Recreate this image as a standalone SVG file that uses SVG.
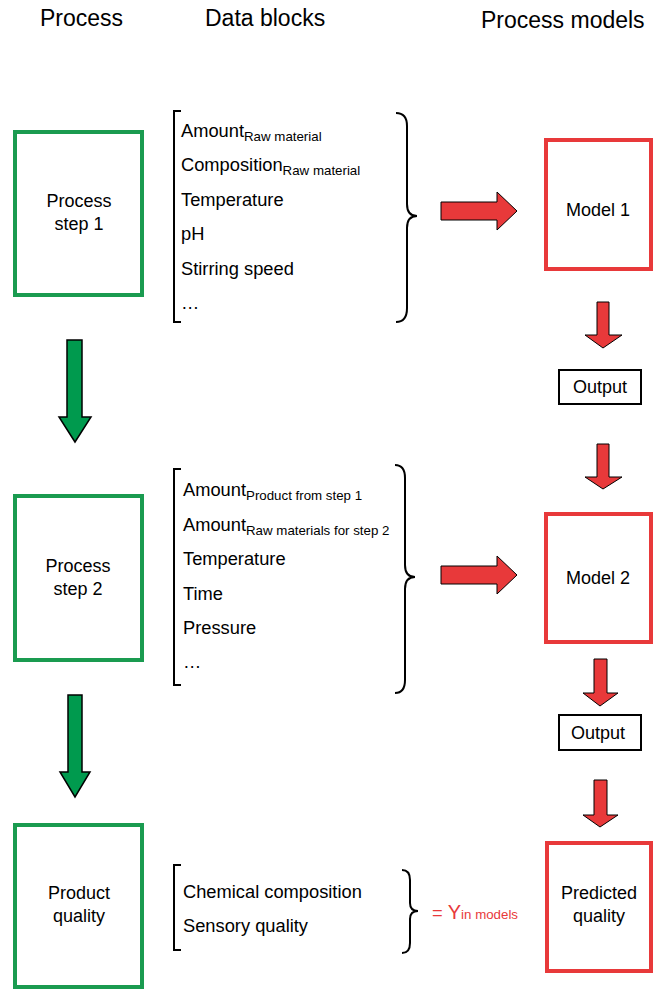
<svg xmlns="http://www.w3.org/2000/svg" width="653" height="989" viewBox="0 0 653 989">
  <style>
    text { font-family: "Liberation Sans", Arial, sans-serif; fill: #000; }
    .hdr { font-size: 23px; }
    .item { font-size: 18.3px; }
    .sub { font-size: 13.3px; }
    .lbl { font-size: 18px; text-anchor: middle; }
    .gbox { fill: #fff; stroke: #1a9b50; stroke-width: 4; }
    .rbox { fill: #fff; stroke: #e8393a; stroke-width: 4; }
    .obox { fill: #fff; stroke: #000; stroke-width: 2; }
    .garrow { fill: #009a4e; stroke: #000; stroke-width: 1.5; stroke-linejoin: miter; }
    .rarrow { fill: #e8393a; stroke: #000; stroke-width: 1; stroke-linejoin: miter; }
    .brk { fill: none; stroke: #000; stroke-width: 2; }
    .red { fill: #e8393a; }
  </style>

  <!-- column headers -->
  <g id="headers">
    <text class="hdr" x="40" y="26">Process</text>
    <text class="hdr" x="205" y="26">Data blocks</text>
    <text class="hdr" x="481" y="28">Process models</text>
  </g>

  <!-- process steps -->
  <g id="process-step-1">
    <rect class="gbox" x="15" y="132" width="127" height="163"/>
    <text class="lbl" x="79" y="207">Process</text>
    <text class="lbl" x="79" y="230">step 1</text>
  </g>
  <g id="process-step-2">
    <rect class="gbox" x="15" y="496" width="127" height="164"/>
    <text class="lbl" x="78" y="572">Process</text>
    <text class="lbl" x="78" y="595">step 2</text>
  </g>
  <g id="product-quality">
    <rect class="gbox" x="15" y="825" width="127" height="162"/>
    <text class="lbl" x="79" y="899">Product</text>
    <text class="lbl" x="79" y="922">quality</text>
  </g>

  <!-- data blocks -->
  <g id="data-block-1">
    <path class="brk" d="M181,111 H174 V322 H181"/>
    <text class="item" x="181" y="137">Amount<tspan class="sub" dy="4">Raw material</tspan></text>
    <text class="item" x="181" y="171">Composition<tspan class="sub" dy="4">Raw material</tspan></text>
    <text class="item" x="181" y="206">Temperature</text>
    <text class="item" x="181" y="240">pH</text>
    <text class="item" x="181" y="275">Stirring speed</text>
    <text class="item" x="181" y="309">…</text>
    <path class="brk" d="M396,113 Q407,113 407,126 V204 Q407,216 417,216 Q407,216 407,228 V308 Q407,322 396,322"/>
  </g>
  <g id="data-block-2">
    <path class="brk" d="M181,469 H174 V685 H181"/>
    <text class="item" x="183" y="496">Amount<tspan class="sub" dy="4">Product from step 1</tspan></text>
    <text class="item" x="183" y="531">Amount<tspan class="sub" dy="4">Raw materials for step 2</tspan></text>
    <text class="item" x="183" y="565">Temperature</text>
    <text class="item" x="183" y="600">Time</text>
    <text class="item" x="183" y="634">Pressure</text>
    <text class="item" x="183" y="668">…</text>
    <path class="brk" d="M395,465 Q405,465 405,478 V565 Q405,577 415,577 Q405,577 405,589 V680 Q405,693 395,693"/>
  </g>
  <g id="data-block-3">
    <path class="brk" d="M181,865 H174 V950 H181"/>
    <text class="item" x="183" y="898">Chemical composition</text>
    <text class="item" x="183" y="932">Sensory quality</text>
    <path class="brk" d="M402,870 Q410,870 410,880 V903 Q410,911 418,911 Q410,911 410,919 V943 Q410,953 402,953"/>
    <text class="item red" x="432" y="919" style="fill:#e8393a">= <tspan style="fill:#e8393a;font-size:20px">Y</tspan><tspan class="sub" style="fill:#e8393a">in models</tspan></text>
  </g>

  <!-- process models -->
  <g id="model-1">
    <rect class="rbox" x="546" y="140" width="105" height="129"/>
    <text class="lbl" x="598" y="216">Model 1</text>
  </g>
  <g id="output-1">
    <rect class="obox" x="559" y="370" width="82" height="34"/>
    <text class="lbl" x="600" y="393">Output</text>
  </g>
  <g id="model-2">
    <rect class="rbox" x="546" y="514" width="105" height="128"/>
    <text class="lbl" x="598" y="584">Model 2</text>
  </g>
  <g id="output-2">
    <rect class="obox" x="559" y="715" width="82" height="35"/>
    <text class="lbl" x="598" y="739">Output</text>
  </g>
  <g id="predicted-quality">
    <rect class="rbox" x="547" y="843" width="104" height="128"/>
    <text class="lbl" x="599" y="899">Predicted</text>
    <text class="lbl" x="599" y="922">quality</text>
  </g>

  <!-- connectors -->
  <g id="connectors">
    <!-- process flow -->
    <path class="garrow" d="M67,340 H82 V417 H91 L75,442 L59,417 H67 Z"/>
    <path class="garrow" d="M68,695 H82 V772 H90 L75,797 L60,772 H68 Z"/>
    <!-- data into models -->
    <path class="rarrow" d="M441,202 H497 V192 L517,211 L497,230 V220 H441 Z"/>
    <path class="rarrow" d="M441,566 H497 V556 L517,575 L497,594 V584 H441 Z"/>
    <!-- model chain -->
    <path class="rarrow" d="M597,302 H609 V335 H622 L603,348 L585,335 H597 Z"/>
    <path class="rarrow" d="M597,444 H609 V477 H622 L603,489 L585,477 H597 Z"/>
    <path class="rarrow" d="M594,659 H607 V693 H618 L600,706 L583,693 H594 Z"/>
    <path class="rarrow" d="M594,780 H607 V815 H618 L600,827 L583,815 H594 Z"/>
  </g>
</svg>
